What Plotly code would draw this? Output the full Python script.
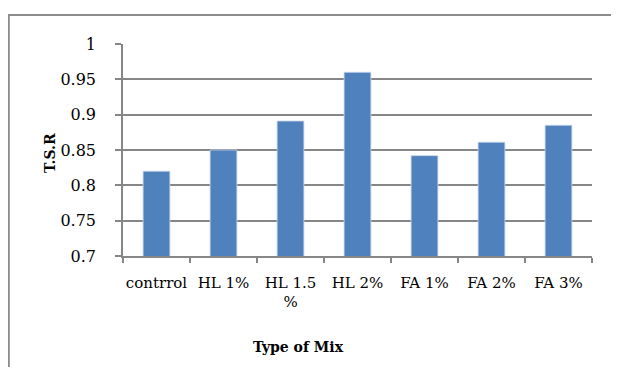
import plotly.graph_objects as go

categories = ["contrrol", "HL 1%", "HL 1.5<br>%", "HL 2%", "FA 1%", "FA 2%", "FA 3%"]
tsr_values = [0.82, 0.85, 0.891, 0.96, 0.842, 0.861, 0.885]
y_ticks = [0.7, 0.75, 0.8, 0.85, 0.9, 0.95, 1]
y_tick_labels = ["0.7", "0.75", "0.8", "0.85", "0.9", "0.95", "1"]
x_title = "Type of Mix"
y_title = "T.S.R"

W, H = 619, 367
OFF = 8  # page body margin
L, R, T, B = 123 - OFF, 27 + OFF, 44 - OFF, 111 + OFF

fig = go.Figure(go.Bar(
    x=categories, y=tsr_values,
    marker=dict(color="#4F81BD", line=dict(color="#C9D7EA", width=0.8)),
))

pw = W - L - R
ph = H - T - B
fig.add_shape(type="rect", xref="paper", yref="paper",
              x0=(0.8 - L) / pw, x1=(700 - L) / pw,
              y0=(-100 - B) / ph, y1=(H - 7 - B) / ph,
              line=dict(color="#8C8C8C", width=2), layer="below")

FONT = "DejaVu Serif, Liberation Serif, serif"
fig.add_annotation(text=f"<b>{x_title}</b>", xref="paper", yref="paper",
                   x=(298 - OFF - L) / pw, y=(H - (347 - OFF) - B) / ph,
                   showarrow=False, font=dict(size=14, family=FONT),
                   xanchor="center", yanchor="middle")
fig.add_annotation(text=f"<b>{y_title}</b>", xref="paper", yref="paper",
                   x=(50 - OFF - L) / pw, y=(H - (153 - OFF) - B) / ph,
                   showarrow=False, font=dict(size=14, family=FONT), textangle=-90,
                   xanchor="center", yanchor="middle")

fig.update_layout(
    width=W, height=H,
    margin=dict(l=L, r=R, t=T, b=B, autoexpand=False),
    paper_bgcolor="white", plot_bgcolor="white",
    bargap=0.6,
    showlegend=False,
    font=dict(family=FONT, size=15, color="black"),
    xaxis=dict(
        showline=True, linecolor="#868686", linewidth=1.5,
        ticks="outside", tickson="boundaries", ticklen=5, tickcolor="#868686", tickwidth=1.5,
        tickfont=dict(size=15), tickangle=0, automargin=False,
        ticklabelstandoff=12,
    ),
    yaxis=dict(
        range=[0.7, 1.0],
        tickvals=y_ticks, ticktext=y_tick_labels,
        showgrid=True, gridcolor="#868686", gridwidth=1.5,
        showline=True, linecolor="#868686", linewidth=1.5,
        ticks="outside", ticklen=6, tickcolor="#868686", tickwidth=1.5,
        tickfont=dict(size=16), automargin=False,
        ticklabelstandoff=16,
        zeroline=False,
    ),
)

fig.write_html("out.html")
